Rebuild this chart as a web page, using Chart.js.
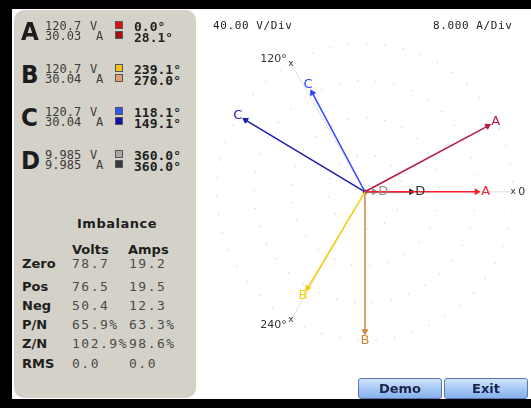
<!DOCTYPE html>
<html>
<head>
<meta charset="utf-8">
<script src="https://cdn.jsdelivr.net/npm/chart.js@4.4.1/dist/chart.umd.min.js"></script>
<style>
  html, body { margin: 0; padding: 0; background: #000; }
  #frame { position: relative; width: 531px; height: 408px; overflow: hidden; background: #000; }
  #screen { position: absolute; left: 12px; top: 9px; width: 519px; height: 390px; background: #fff; }
  #panel { position: absolute; left: 14px; top: 10px; width: 182px; height: 388px;
           background: #d4d2c8; border-radius: 10px; }
  #phasor { position: absolute; left: 196px; top: 10px; }
  .t { position: absolute; white-space: pre; line-height: 1; z-index: 2; }
  .big { font: bold 23px "DejaVu Sans", sans-serif; color: #1c1c1c; transform: scaleY(1.08); transform-origin: top left; }
  .val { font: 12px "DejaVu Sans Mono", monospace; color: #3a3a3a; }
  .deg { font: bold 13px "DejaVu Sans Mono", monospace; color: #1e1e1e; }
  .sq  { position: absolute; width: 6px; height: 6px; border: 1px solid #555; z-index: 2; }
  .hdr { font: bold 13px "DejaVu Sans", sans-serif; color: #1e1e1e; }
  .imb { font: 13px "DejaVu Sans Mono", monospace; color: #4a4a4a; letter-spacing: 1.5px; }
  .scale { font: 11px "DejaVu Sans Mono", monospace; color: #222; letter-spacing: 0.6px; }
  .btn { position: absolute; top: 378px; width: 82px; height: 19px; z-index: 3;
         border: 1px solid #5a78b8; border-radius: 3px;
         background: linear-gradient(#d2e3fb, #a4c6f4 55%, #86b0ec);
         font: bold 13px "DejaVu Sans", sans-serif; color: #1a2448;
         text-align: center; line-height: 19px; }
</style>
</head>
<body>
<div id="frame">
  <div id="screen"></div>
  <div id="panel"></div>
  <canvas id="phasor" width="335" height="388"></canvas>
  <div class="t scale" style="left:213px;top:19px">40.00 V/Div</div>
  <div class="t scale" style="left:433px;top:19px">8.000 A/Div</div>
  <div class="btn" style="left:358px">Demo</div>
  <div class="btn" style="left:444px">Exit</div>
</div>
<script>
// Phase readings
const phases      = ['A', 'B', 'C', 'D'];
const volts       = [120.7, 120.7, 120.7, 9.985];
const voltText    = ['120.7', '120.7', '120.7', '9.985'];
const voltAngles  = [0.0, 239.1, 118.1, 360.0];
const amps        = [30.03, 30.04, 30.04, 9.985];
const ampText     = ['30.03', '30.04', '30.04', '9.985'];
const ampAngles   = [28.1, 270.0, 149.1, 360.0];
const voltsPerDiv = 40.00;
const ampsPerDiv  = 8.000;

// Sequence / imbalance table
const imbRows  = ['Zero', 'Pos', 'Neg', 'P/N', 'Z/N', 'RMS'];
const imbVolts = ['78.7', '76.5', '50.4', '65.9%', '102.9%', '0.0'];
const imbAmps  = ['19.2', '19.5', '12.3', '63.3%', '98.6%', '0.0'];

// Polar grid ticks
const ringDivs    = [1, 2, 3, 4];
const spokeAngles = [0, 120, 240];
const spokeLabels = ['0', '120°', '240°'];

// Colours
const voltColors = ['#ff1e32', '#f4d000', '#2a48ff', '#8e8e8e'];
const ampColors  = ['#b8183e', '#d4863c', '#1c1cb0', '#2e2e2e'];
const voltSwatch = ['#e01010', '#f6c21a', '#2a58f0', '#a8a8a8'];
const ampSwatch  = ['#a01010', '#e0a070', '#1212a8', '#383838'];

// ---------- left readout panel ----------
const frame = document.getElementById('frame');
function put(cls, text, left, top) {
  const d = document.createElement('div');
  d.className = 't ' + cls;
  d.textContent = text;
  d.style.left = left + 'px';
  d.style.top = top + 'px';
  frame.appendChild(d);
  return d;
}
function swatch(color, left, top) {
  const d = document.createElement('div');
  d.className = 'sq';
  d.style.left = left + 'px';
  d.style.top = top + 'px';
  d.style.background = color;
  frame.appendChild(d);
}
phases.forEach((p, i) => {
  const g = 19 + i * 43;
  put('big', p, 21, g - 2);
  put('val', voltText[i], 45, g);
  put('val', 'V', 90, g);
  put('val', ampText[i], 45, g + 10);
  put('val', 'A', 96, g + 10);
  swatch(voltSwatch[i], 115, g + 2);
  swatch(ampSwatch[i], 115, g + 12);
  put('deg', voltAngles[i].toFixed(1) + '°', 134, g);
  put('deg', ampAngles[i].toFixed(1) + '°', 134, g + 11);
});
put('hdr', 'Imbalance', 77, 216).style.letterSpacing = '0.5px';
put('hdr', 'Volts', 72, 242);
put('hdr', 'Amps', 128, 242);
const rowCenters = [262, 285, 304, 323, 342, 362];
imbRows.forEach((r, i) => {
  const top = rowCenters[i] - 6;
  put('hdr', r, 22, top);
  put('imb', imbVolts[i], 72, top);
  put('imb', imbAmps[i], 129, top);
});

// ---------- phasor diagram ----------
const PX_PER_DIV = 38;
const CW = 335, CH = 388;
const OX = 169, OY = 181.5;   // centre of the diagram inside the canvas

function tip(mag, perDiv, deg) {
  const r = mag / perDiv, a = deg * Math.PI / 180;
  return { x: r * Math.cos(a), y: r * Math.sin(a) };
}
function vector(label, mag, perDiv, deg, color, extra) {
  return Object.assign({
    label, angle: deg,
    data: [{ x: 0, y: 0 }, tip(mag, perDiv, deg)],
    showLine: true, fill: false, tension: 0,
    borderColor: color, backgroundColor: color,
    pointBackgroundColor: color, pointBorderColor: color,
    borderWidth: 1.5,
    pointRadius: [0, 3.2], pointHoverRadius: 0, pointBorderWidth: 1,
    pointStyle: 'triangle', pointRotation: [0, 90 - deg]
  }, extra || {});
}
const datasets = [];
phases.forEach((p, i) => {
  datasets.push(vector(p, volts[i], voltsPerDiv, voltAngles[i], voltColors[i]));
  const extra = (i === phases.length - 1)
    ? { pointStyle: ['rect', 'triangle'], pointRadius: [2.2, 3.2] } : null;
  datasets.push(vector(p, amps[i], ampsPerDiv, ampAngles[i], ampColors[i], extra));
});

const polarGrid = {
  id: 'polarGrid',
  beforeDatasetsDraw(chart) {
    const { ctx, scales: { x, y } } = chart;
    const cx = x.getPixelForValue(0), cy = y.getPixelForValue(0);
    const unit = x.getPixelForValue(1) - cx;
    const R = unit * ringDivs[ringDivs.length - 1];
    ctx.save();
    ctx.strokeStyle = '#dcdcdc';
    ctx.lineWidth = 1.4;
    ctx.setLineDash([1.4, 17]);
    ringDivs.forEach(d => {
      ctx.beginPath();
      ctx.arc(cx, cy, d * unit, 0, Math.PI * 2);
      ctx.stroke();
    });
    ctx.setLineDash([]);
    ctx.lineWidth = 1;
    ctx.strokeStyle = '#e2e2e2';
    spokeAngles.forEach(a => {
      const r = a * Math.PI / 180;
      ctx.beginPath();
      ctx.moveTo(cx, cy);
      ctx.lineTo(cx + R * Math.cos(r), cy - R * Math.sin(r));
      ctx.stroke();
    });
    ctx.fillStyle = '#333';
    spokeAngles.forEach((a, i) => {
      const r = a * Math.PI / 180;
      const mx = cx + R * Math.cos(r), my = cy - R * Math.sin(r);
      ctx.font = '9px "DejaVu Sans", sans-serif';
      ctx.textAlign = 'center'; ctx.textBaseline = 'middle';
      ctx.fillText('x', mx, my);
      ctx.font = '11px "DejaVu Sans", sans-serif';
      if (a === 0) {
        ctx.textAlign = 'left';
        ctx.fillText(spokeLabels[i], mx + 5, my);
      } else if (a < 180) {
        ctx.textAlign = 'right';
        ctx.fillText(spokeLabels[i], mx - 4, my - 4);
      } else {
        ctx.textAlign = 'right';
        ctx.fillText(spokeLabels[i], mx - 4, my + 5);
      }
    });
    ctx.restore();
  }
};

const vectorLabels = {
  id: 'vectorLabels',
  afterDatasetsDraw(chart) {
    const { ctx, scales: { x, y } } = chart;
    ctx.save();
    ctx.font = '13px "DejaVu Sans", sans-serif';
    ctx.textAlign = 'center';
    ctx.textBaseline = 'middle';
    chart.data.datasets.forEach(ds => {
      const t = ds.data[1];
      const px = x.getPixelForValue(t.x), py = y.getPixelForValue(t.y);
      const a = ds.angle * Math.PI / 180;
      ctx.fillStyle = ds.borderColor;
      ctx.fillText(ds.label, px + Math.cos(a) * 9, py - Math.sin(a) * 9);
    });
    ctx.restore();
  }
};

new Chart(document.getElementById('phasor'), {
  type: 'scatter',
  data: { datasets },
  options: {
    responsive: false,
    animation: false,
    events: [],
    layout: { padding: 0 },
    plugins: { legend: { display: false }, tooltip: { enabled: false } },
    scales: {
      x: { type: 'linear', display: false, min: -OX / PX_PER_DIV, max: (CW - OX) / PX_PER_DIV },
      y: { type: 'linear', display: false, min: -(CH - OY) / PX_PER_DIV, max: OY / PX_PER_DIV }
    }
  },
  plugins: [polarGrid, vectorLabels]
});
</script>
</body>
</html>
